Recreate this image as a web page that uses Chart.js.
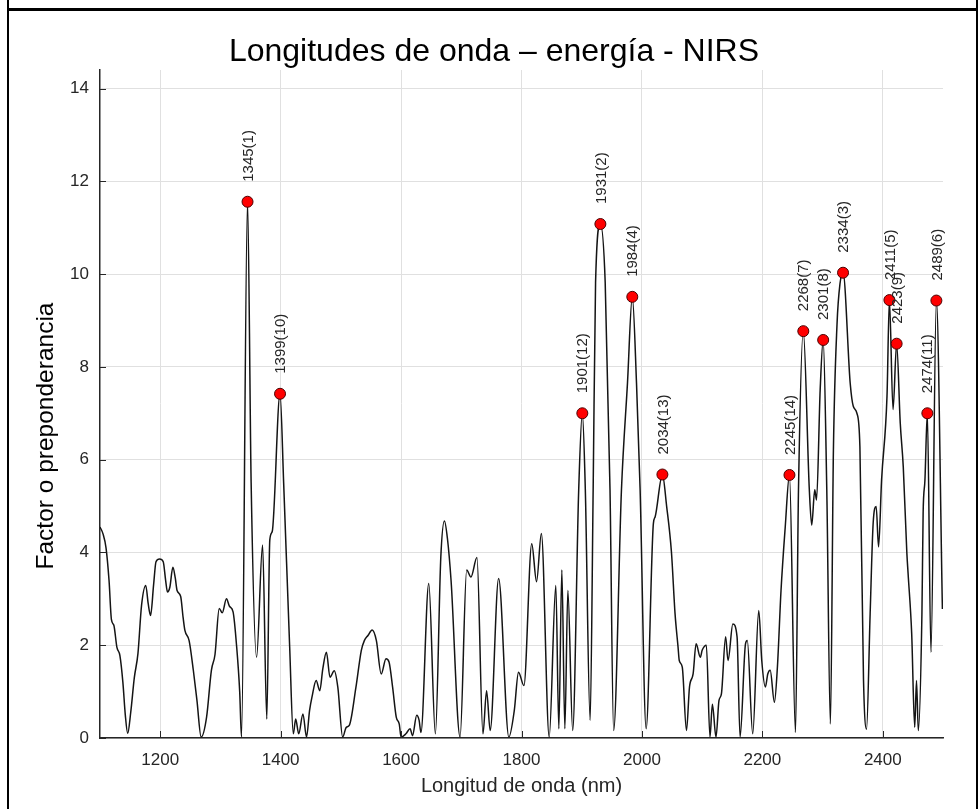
<!DOCTYPE html>
<html>
<head>
<meta charset="utf-8">
<title>Longitudes de onda – energía - NIRS</title>
<script src="https://cdn.jsdelivr.net/npm/chart.js@4.4.1/dist/chart.umd.min.js"></script>
<style>
  html, body { margin: 0; padding: 0; background: #fff; }
  #wrap { position: relative; width: 979px; height: 809px; overflow: hidden; }
  #chart { position: absolute; left: 0; top: 0; }
  .rule { position: absolute; background: #000; }
</style>
</head>
<body>
<div id="wrap">
  <canvas id="chart" width="979" height="809"></canvas>
  <div class="rule" style="left:7px;top:0;width:2px;height:809px"></div>
  <div class="rule" style="left:976px;top:0;width:2px;height:809px"></div>
  <div class="rule" style="left:7px;top:8px;width:971px;height:3px"></div>
</div>
<script>
// spectrum (nm, factor)
const wavelength = [
  1100, 1105, 1110, 1115, 1119, 1123, 1128, 1133, 1138, 1142, 1146, 1151, 1157, 1163, 1169, 1176, 1180, 1184, 1189, 1193,
  1199, 1205, 1209, 1212, 1216, 1221, 1225, 1228, 1234, 1238, 1241, 1248, 1255, 1261, 1268, 1277, 1285, 1291, 1298, 1303,
  1310, 1315, 1321, 1327, 1332, 1335, 1345, 1351, 1360, 1370, 1377, 1382, 1386, 1399, 1405, 1415, 1421, 1425, 1430, 1437,
  1443, 1448, 1452, 1459, 1465, 1470, 1476, 1482, 1489, 1495, 1503, 1509, 1514, 1525, 1534, 1539, 1545, 1552, 1559, 1567,
  1575, 1580, 1586, 1592, 1597, 1600, 1608, 1615, 1619, 1626, 1630, 1633, 1646, 1657, 1666, 1672, 1677, 1683, 1698, 1709,
  1716, 1726, 1736, 1742, 1748, 1762, 1779, 1788, 1795, 1804, 1817, 1825, 1833, 1846, 1857, 1862, 1867, 1872, 1877, 1885,
  1895, 1901, 1906, 1914, 1919, 1923, 1931, 1939, 1947, 1953, 1966, 1976, 1984, 1991, 1997, 2007, 2019, 2022, 2034, 2041,
  2049, 2055, 2060, 2062, 2067, 2074, 2079, 2085, 2090, 2097, 2100, 2107, 2113, 2117, 2123, 2128, 2132, 2139, 2143, 2151,
  2158, 2163, 2172, 2175, 2184, 2194, 2199, 2205, 2209, 2213, 2220, 2225, 2231, 2238, 2245, 2255, 2260, 2268, 2278, 2282,
  2287, 2290, 2296, 2301, 2307, 2313, 2318, 2324, 2329, 2334, 2346, 2351, 2357, 2362, 2368, 2373, 2379, 2384, 2389, 2393,
  2398, 2407, 2411, 2417, 2423, 2429, 2434, 2440, 2442, 2448, 2453, 2456, 2459, 2465, 2467, 2470, 2474, 2480, 2489, 2499
];
const factor = [
  4.55, 4.40, 4.10, 3.40, 2.55, 2.43, 1.96, 1.78, 1.20, 0.50, 0.10, 0.55, 1.30, 1.82, 2.86, 3.29, 2.90, 2.64, 3.30, 3.80,
  3.86, 3.80, 3.40, 3.15, 3.25, 3.68, 3.45, 3.18, 3.05, 2.60, 2.32, 2.10, 1.46, 0.81, 0.02, 0.45, 1.46, 1.80, 2.79, 2.70,
  3.00, 2.84, 2.72, 1.96, 1.00, 0.02, 11.56, 5.50, 1.74, 4.16, 0.41, 4.27, 4.45, 7.42, 5.50, 1.96, 0.09, 0.41, 0.09, 0.52,
  0.02, 0.59, 0.88, 1.24, 1.02, 1.49, 1.85, 1.31, 1.45, 1.09, 0.02, 0.23, 0.27, 1.09, 1.89, 2.10, 2.21, 2.33, 2.10, 1.38,
  1.71, 1.64, 1.09, 0.45, 0.30, 0.02, 0.09, 0.20, 0.05, 0.49, 0.38, 0.12, 3.33, 0.09, 3.90, 4.68, 4.30, 3.40, 0.02, 3.62,
  3.47, 3.89, 0.09, 1.02, 0.16, 3.44, 0.02, 0.59, 1.42, 1.13, 4.19, 3.37, 4.41, 0.02, 3.29, 0.20, 3.62, 0.20, 3.18, 0.16,
  5.35, 7.00, 5.35, 0.38, 5.35, 9.82, 11.08, 9.82, 5.35, 0.16, 5.35, 7.65, 9.51, 7.65, 5.35, 0.20, 4.62, 4.77, 5.68, 5.00,
  4.01, 2.68, 1.96, 1.67, 1.53, 0.16, 1.10, 1.38, 2.03, 1.74, 1.89, 2.00, 0.02, 0.73, 0.02, 0.81, 0.95, 2.18, 1.67, 2.46,
  2.18, 0.02, 2.03, 2.10, 0.09, 2.75, 1.67, 1.10, 1.38, 1.46, 0.77, 1.53, 3.18, 4.55, 5.67, 0.12, 5.35, 8.77, 5.35, 4.59,
  5.35, 5.13, 7.50, 8.58, 5.35, 0.30, 6.20, 8.92, 9.80, 10.03, 7.63, 7.15, 7.00, 6.28, 1.24, 0.19, 2.68, 4.63, 4.99, 4.12,
  5.56, 7.37, 9.44, 7.08, 8.50, 6.79, 5.85, 3.98, 3.55, 2.25, 0.23, 1.24, 0.16, 2.68, 4.84, 5.56, 7.00, 1.85, 9.43, 2.78
];

// marked peaks and their rank
const peakWavelength = [1345, 1399, 1901, 1931, 1984, 2034, 2245, 2268, 2301, 2334, 2411, 2423, 2474, 2489];
const peakFactor = [11.56, 7.42, 7.00, 11.08, 9.51, 5.68, 5.67, 8.77, 8.58, 10.03, 9.44, 8.50, 7.00, 9.43];
const peakRank = [1, 10, 12, 2, 4, 13, 14, 7, 8, 3, 5, 9, 11, 6];

const xTicks = [1200, 1400, 1600, 1800, 2000, 2200, 2400];
const yTicks = [0, 2, 4, 6, 8, 10, 12, 14];

const FONT = "'Liberation Sans', Arial, Helvetica, sans-serif";
const INK = '#262626';

// title, y title, inward ticks and the peak labels
const extras = {
  id: 'extras',
  afterDraw(chart) {
    const { ctx, chartArea: a, scales: { x, y } } = chart;
    ctx.save();
    ctx.strokeStyle = INK;
    ctx.lineWidth = 1;
    ctx.beginPath();
    yTicks.forEach(v => {
      const py = Math.round(y.getPixelForValue(v)) + 0.5;
      ctx.moveTo(a.left, py); ctx.lineTo(a.left + 6, py);
    });
    xTicks.forEach(v => {
      const px = Math.round(x.getPixelForValue(v)) + 0.5;
      ctx.moveTo(px, a.bottom); ctx.lineTo(px, a.bottom - 7);
    });
    ctx.stroke();

    ctx.fillStyle = '#000';
    ctx.font = '32px ' + FONT;
    ctx.textAlign = 'center';
    ctx.textBaseline = 'middle';
    ctx.fillText('Longitudes de onda – energía - NIRS', 494, 52);

    ctx.save();
    ctx.translate(46, 436);
    ctx.rotate(-Math.PI / 2);
    ctx.font = '24.5px ' + FONT;
    ctx.fillText('Factor o preponderancia', 0, 0);
    ctx.restore();

    ctx.fillStyle = INK;
    ctx.font = '15px ' + FONT;
    ctx.textAlign = 'left';
    peakWavelength.forEach((w, i) => {
      const px = x.getPixelForValue(w);
      const py = y.getPixelForValue(peakFactor[i]);
      ctx.save();
      ctx.translate(px + 1, py - 20);
      ctx.rotate(-Math.PI / 2);
      ctx.fillText(w + '(' + peakRank[i] + ')', 0, 0);
      ctx.restore();
    });
    ctx.restore();
  }
};

new Chart(document.getElementById('chart'), {
  type: 'line',
  data: {
    datasets: [
      {
        type: 'scatter',
        data: peakWavelength.map((w, i) => ({ x: w, y: peakFactor[i] })),
        pointRadius: 5.5,
        pointBackgroundColor: '#ff0000',
        pointBorderColor: '#4a0000',
        pointBorderWidth: 1,
        order: 0
      },
      {
        data: wavelength.map((w, i) => ({ x: w, y: factor[i] })),
        borderColor: '#141414',
        borderWidth: 1.5,
        pointRadius: 0,
        tension: 0.4,
        cubicInterpolationMode: 'monotone',
        fill: false,
        order: 1
      }
    ]
  },
  options: {
    responsive: false,
    devicePixelRatio: 1,
    animation: false,
    layout: { padding: { top: 70, right: 36, bottom: 0, left: 0 } },
    plugins: {
      legend: { display: false },
      tooltip: { enabled: false },
      title: { display: false }
    },
    scales: {
      x: {
        type: 'linear',
        min: 1100,
        max: 2500,
        afterBuildTicks: s => { s.ticks = xTicks.map(v => ({ value: v })); },
        afterFit: s => { s.height = 71; },
        grid: { color: '#e0e0e0', lineWidth: 1, drawTicks: false },
        border: { display: true, color: INK, width: 1.5 },
        ticks: { color: INK, font: { family: FONT, size: 17 }, padding: 12, maxRotation: 0, callback: v => String(v) },
        title: {
          display: true,
          text: 'Longitud de onda (nm)',
          color: INK,
          font: { family: FONT, size: 20 },
          padding: { top: 0, bottom: 11 }
        }
      },
      y: {
        type: 'linear',
        min: 0,
        max: 14.4,
        afterBuildTicks: s => { s.ticks = yTicks.map(v => ({ value: v })); },
        afterFit: s => { s.width = 100; },
        grid: { color: '#e0e0e0', lineWidth: 1, drawTicks: false },
        border: { display: true, color: INK, width: 1.5 },
        ticks: { color: INK, font: { family: FONT, size: 17 }, padding: 11, callback: v => String(v) }
      }
    }
  },
  plugins: [extras]
});
</script>
</body>
</html>
